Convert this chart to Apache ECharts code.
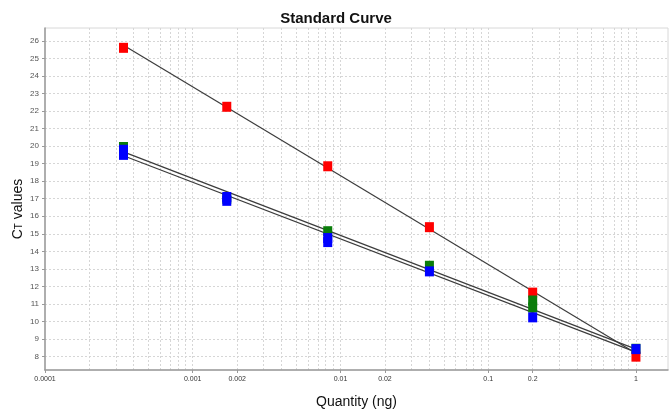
<!doctype html>
<html>
<head>
    <meta charset="utf-8">
    <title>Standard Curve</title>
    <script src="https://cdn.jsdelivr.net/npm/echarts@6/dist/echarts.min.js"></script>
    <style>
        html, body { margin: 0; padding: 0; background: #fff; }
        #chart { width: 672px; height: 414px; }
    </style>
</head>
<body>
<div id="chart"></div>
<script>
    // dilution series (ng)
    var quantities = [0.00034, 0.0017, 0.0082, 0.04, 0.2, 1];
    // Ct replicates per dilution
    var redCt   = [[25.6], [22.24], [18.85], [15.38], [11.65], [8.0]];
    var greenCt = [[19.95], [17.0], [15.15], [13.18], [11.2, 10.8], [8.45]];
    var blueCt  = [[19.79, 19.5], [17.1, 16.88], [14.76, 14.53], [12.86], [10.24], [8.43]];
    // fitted line ends [quantity, Ct]
    var redFit   = [[0.00034, 25.75], [1, 8.2]];
    var greenFit = [[0.00034, 19.67], [1, 8.43]];
    var blueFit  = [[0.00034, 19.45], [1, 8.26]];
    // axis labels
    var xLabelValues = [0.0001, 0.001, 0.002, 0.01, 0.02, 0.1, 0.2, 1];
    var yLabelValues = [8, 9, 10, 11, 12, 13, 14, 15, 16, 17, 18, 19, 20, 21, 22, 23, 24, 25, 26];

    function lg(v) { return Math.log10(v); }

    function points(ct) {
        var out = [];
        for (var i = 0; i < quantities.length; i++) {
            for (var j = 0; j < ct[i].length; j++) {
                out.push([lg(quantities[i]), ct[i][j]]);
            }
        }
        return out;
    }
    function fit(arr) {
        return arr.map(function (p) { return [lg(p[0]), p[1]]; });
    }

    // vertical grid at 1..9 x 10^n (log minor positions)
    var xGrid = [];
    for (var n = -4; n <= 0; n++) {
        for (var k = 1; k <= 9; k++) {
            var v = k * Math.pow(10, n);
            if (v > 0.0001 && v <= 1.6) xGrid.push({ xAxis: lg(v) });
        }
    }

    var myChart = echarts.init(document.getElementById('chart'));
    var lineStyle = { color: '#3c3c3c', width: 1.2 };
    var gridLine = { color: '#d6d6d6', type: [2, 2], width: 1 };
    var option = {
        backgroundColor: '#fff',
        animation: false,
        title: {
            text: 'Standard Curve',
            left: 'center',
            top: 6,
            textStyle: { fontFamily: 'Liberation Sans', fontSize: 15, fontWeight: 'bold', color: '#111' }
        },
        grid: {
            left: 45, right: 4, top: 28, bottom: 41,
            show: true, borderColor: '#d8d8d8', borderWidth: 1
        },
        xAxis: {
            type: 'value',
            min: -4,
            max: 0.217,
            name: 'Quantity (ng)',
            nameLocation: 'middle',
            nameGap: 25,
            nameTextStyle: { fontFamily: 'Liberation Sans', fontSize: 14, color: '#111' },
            axisLine: { show: true, onZero: false, lineStyle: { color: '#9a9a9a', width: 1.5 } },
            axisTick: { show: true, length: 3, customValues: xLabelValues.map(lg), lineStyle: { color: '#9a9a9a' } },
            axisLabel: {
                customValues: xLabelValues.map(lg),
                fontFamily: 'Liberation Sans',
                fontSize: 7,
                color: '#333',
                margin: 6,
                formatter: function (v) { return String(+Math.pow(10, v).toPrecision(3)); }
            },
            splitLine: { show: false }
        },
        yAxis: {
            type: 'value',
            min: 7.24,
            max: 26.73,
            name: '{a|C}{b|T}{a| values}',
            nameLocation: 'middle',
            nameGap: 20,
            nameMoveOverlap: false,
            nameRotate: 90,
            nameTextStyle: {
                padding: [0, 20, 0, 0],
                rich: {
                    a: { fontFamily: 'Liberation Sans', fontSize: 14, color: '#111' },
                    b: { fontFamily: 'Liberation Sans', fontSize: 10, color: '#111', padding: [3, 0, 0, 0] }
                }
            },
            axisLine: { show: true, onZero: false, lineStyle: { color: '#9a9a9a', width: 1.5 } },
            axisTick: { show: true, length: 3, customValues: yLabelValues, lineStyle: { color: '#9a9a9a' } },
            axisLabel: {
                customValues: yLabelValues,
                fontFamily: 'Liberation Sans',
                fontSize: 8,
                color: '#555',
                margin: 6
            },
            splitLine: { show: true, lineStyle: gridLine }
        },
        series: [
            { type: 'line', data: [], symbol: 'none', z: 0,
              markLine: { z: 0, silent: true, symbol: 'none', label: { show: false }, lineStyle: gridLine,
                          emphasis: { disabled: true }, animation: false, data: xGrid } },
            { type: 'line', data: fit(redFit), symbol: 'none', lineStyle: lineStyle, z: 2 },
            { type: 'line', data: fit(greenFit), symbol: 'none', lineStyle: lineStyle, z: 2 },
            { type: 'line', data: fit(blueFit), symbol: 'none', lineStyle: lineStyle, z: 2 },
            { type: 'scatter', data: points(redCt), symbol: 'rect', symbolSize: [9, 10],
              itemStyle: { color: '#ff0000', opacity: 1 }, z: 3 },
            { type: 'scatter', data: points(greenCt), symbol: 'rect', symbolSize: [9, 10],
              itemStyle: { color: '#0a7d0a', opacity: 1 }, z: 4 },
            { type: 'scatter', data: points(blueCt), symbol: 'rect', symbolSize: [9, 10],
              itemStyle: { color: '#0000ff', opacity: 1 }, z: 5 }
        ]
    };
    myChart.setOption(option);
</script>
</body>
</html>
